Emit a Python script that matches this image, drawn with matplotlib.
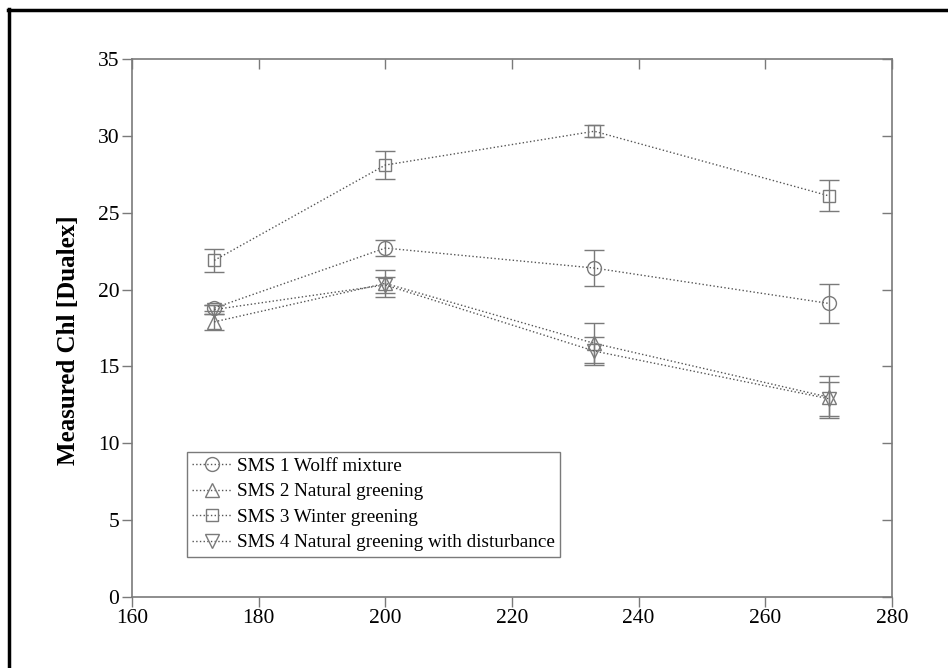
import matplotlib.pyplot as plt
from matplotlib.lines import Line2D

plt.rcParams['font.family'] = ['Liberation Serif', 'DejaVu Serif']

# ================= DATA =================
days = [173, 200, 233, 270]

sms1 = [18.8, 22.7, 21.4, 19.1]
sms1_err = [0.2, 0.5, 1.2, 1.25]

sms2 = [17.9, 20.4, 16.5, 13.0]
sms2_err = [0.5, 0.9, 1.3, 1.35]

sms3 = [21.9, 28.1, 30.3, 26.1]
sms3_err = [0.75, 0.9, 0.4, 1.0]

sms4 = [18.7, 20.3, 16.0, 12.9]
sms4_err = [0.3, 0.5, 0.9, 1.1]

labels = ["SMS 1 Wolff mixture", "SMS 2 Natural greening",
          "SMS 3 Winter greening", "SMS 4 Natural greening with disturbance"]
markers = ['o', '^', 's', 'v']
msizes = [10, 10, 8, 10]

series = [(sms1, sms1_err), (sms2, sms2_err), (sms3, sms3_err), (sms4, sms4_err)]

# ================= PLOT =================
fig = plt.figure(figsize=(9.48, 6.68), dpi=100)
ax = fig.add_axes([0.1392, 0.1063, 0.8017, 0.8054])

grey = '#7a7a7a'
for (vals, errs), mk, ms, lab in zip(series, markers, msizes, labels):
    ax.errorbar(days, vals, yerr=errs, fmt='none', ecolor=grey,
                elinewidth=1.0, capsize=7, capthick=1.0)
    ax.plot(days, vals, linestyle=':', color='#555555', linewidth=1.0,
            marker=mk, markersize=ms, markerfacecolor='none',
            markeredgecolor=grey, markeredgewidth=1.0, label=lab)

ax.set_xlim(160, 280)
ax.set_ylim(0, 35)
ax.set_xticks(range(160, 281, 20))
ax.set_yticks(range(0, 36, 5))

for s in ax.spines.values():
    s.set_color(grey)
    s.set_linewidth(1.2)

ax.tick_params(axis='both', direction='out', length=7, width=1.0,
               color=grey, labelsize=15.5, pad=2)

# top / right ticks pointing inward
top = ax.secondary_xaxis('top')
top.set_xticks(range(160, 281, 20))
top.tick_params(direction='in', length=7, width=1.0, color=grey, labeltop=False)
top.spines['top'].set_visible(False)
right = ax.secondary_yaxis('right')
right.set_yticks(range(0, 36, 5))
right.tick_params(direction='in', length=7, width=1.0, color=grey, labelright=False)
right.spines['right'].set_visible(False)

ax.set_ylabel('Measured Chl [Dualex]', fontsize=18, fontweight='bold')
ax.yaxis.set_label_coords(-0.068, 0.478)

handles = [Line2D([], [], linestyle=':', color='#555555', linewidth=1.0, marker=mk,
                  markersize=ms, markerfacecolor='none', markeredgecolor=grey)
           for mk, ms in zip(markers, msizes)]
leg = ax.legend(handles, labels, loc='lower left', bbox_to_anchor=(0.072, 0.074),
                borderaxespad=0, fontsize=13.8, fancybox=False, framealpha=1,
                handlelength=2.0, handletextpad=0.3, labelspacing=0.42,
                borderpad=0.3)
leg.get_frame().set_edgecolor(grey)
leg.get_frame().set_linewidth(1.0)

# outer frame (left and top edges)
fig.add_artist(Line2D([0.0095, 0.0095], [0.0, 0.987], color='black', linewidth=2.5,
                      transform=fig.transFigure))
fig.add_artist(Line2D([0.0082, 1.0], [0.9855, 0.9855], color='black', linewidth=2.5,
                      transform=fig.transFigure))

fig.savefig('out.png', dpi=100)
